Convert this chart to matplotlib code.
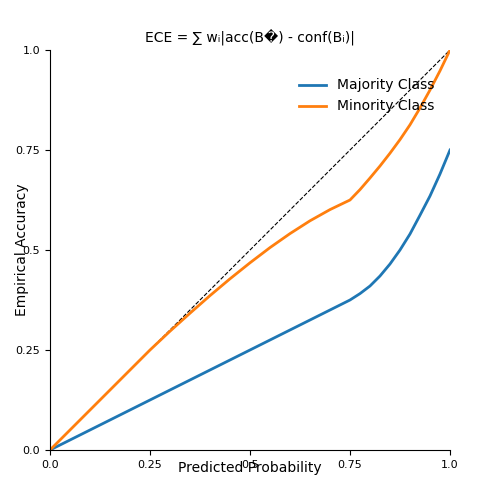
import matplotlib
matplotlib.use("Agg")
import matplotlib.pyplot as plt

maj_x = [0, 0.25, 0.5, 0.75, 0.775, 0.8, 0.825, 0.85, 0.875, 0.9, 0.925, 0.95, 0.975, 1.0]
maj_y = [0, 0.125, 0.25, 0.375, 0.391, 0.41, 0.435, 0.465, 0.5, 0.54, 0.587, 0.635, 0.69, 0.75]
min_x = [0, 0.1, 0.2, 0.25, 0.3, 0.35, 0.4, 0.45, 0.5, 0.55, 0.6, 0.65, 0.7, 0.75,
         0.775, 0.8, 0.825, 0.85, 0.875, 0.9, 0.925, 0.95, 0.975, 1.0]
min_y = [0, 0.1, 0.2, 0.25, 0.297, 0.342, 0.386, 0.428, 0.468, 0.506, 0.541, 0.573, 0.601, 0.625,
         0.651, 0.68, 0.71, 0.742, 0.776, 0.813, 0.855, 0.9, 0.948, 1.0]
ticks = [0.0, 0.25, 0.5, 0.75, 1.0]
tick_labels = ["0.0", "0.25", "0.5", "0.75", "1.0"]

fig = plt.figure(figsize=(5, 5), dpi=100)
ax = fig.add_axes([0.1, 0.1, 0.8, 0.8])
ax.plot([0, 1], [0, 1], 'k--', lw=0.8)
ax.plot(maj_x, maj_y, color='#1f77b4', lw=2, label='Majority Class')
ax.plot(min_x, min_y, color='#ff7f0e', lw=2, label='Minority Class')
ax.set_xlim(0, 1); ax.set_ylim(0, 1)
ax.set_xticks(ticks); ax.set_xticklabels(tick_labels)
ax.set_yticks(ticks); ax.set_yticklabels(tick_labels)
ax.tick_params(labelsize=8)
for s in ['top', 'right']:
    ax.spines[s].set_visible(False)
ax.set_xlabel('Predicted Probability', labelpad=-6)
ax.set_ylabel('Empirical Accuracy', labelpad=-10)
ax.set_title('ECE = ∑ wᵢ|acc(B\ufffd) - conf(Bᵢ)|', fontsize=10)
ax.legend(loc='upper left', bbox_to_anchor=(0.59, 0.96), frameon=False, fontsize=10)
fig.savefig('out.png', dpi=100)
